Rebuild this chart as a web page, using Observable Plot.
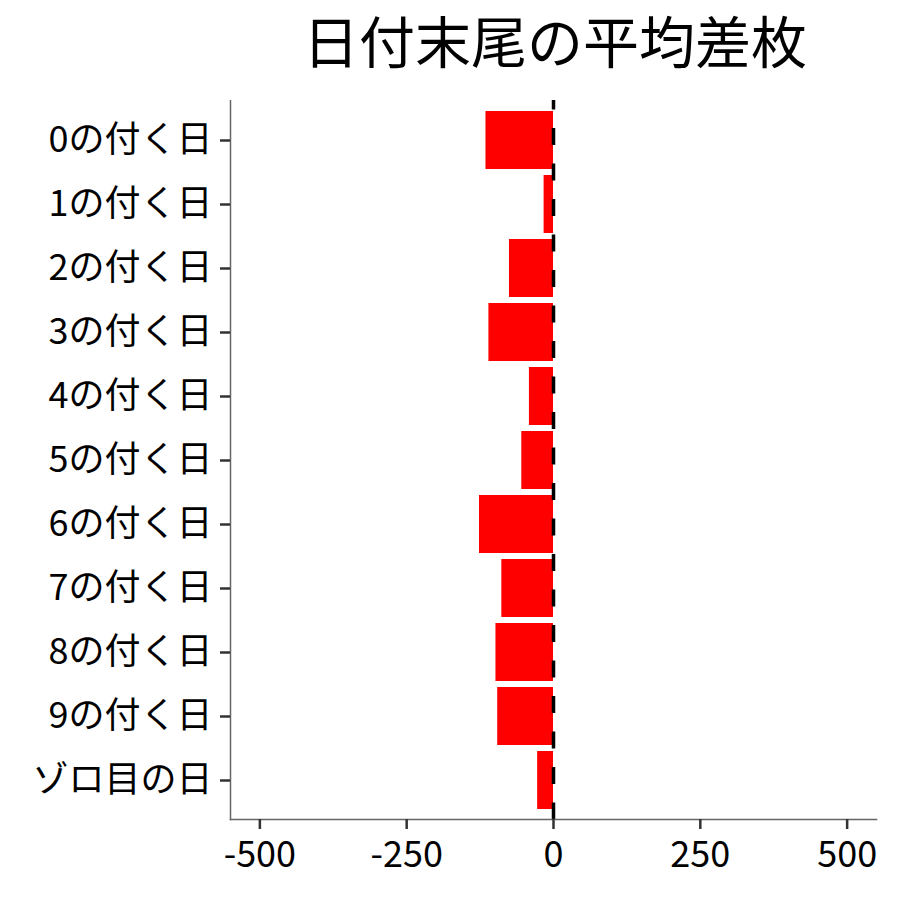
<!DOCTYPE html>
<html>
<head>
<meta charset="utf-8">
<script src="https://cdn.jsdelivr.net/npm/d3@7"></script>
<script src="https://cdn.jsdelivr.net/npm/@observablehq/plot@0.6"></script>
<style>
  body { margin: 0; background: #fff; font-family: "Noto Sans CJK JP", sans-serif; }
  #title { box-sizing: border-box; height: 100px; width: 900px; padding: 1px 0 0 210px;
           text-align: center; font-size: 56px; line-height: 1.35; color: #000; }
  #chart { height: 800px; }
  #chart svg { display: block; }
</style>
</head>
<body>
<div id="title">日付末尾の平均差枚</div>
<div id="chart"></div>
<script>
const categories = ["0の付く日","1の付く日","2の付く日","3の付く日","4の付く日","5の付く日","6の付く日","7の付く日","8の付く日","9の付く日","ゾロ目の日"];
const values = [-115, -16, -75, -110, -41, -54, -126, -88, -98, -95, -27];
const xTicks = [-500, -250, 0, 250, 500];

const data = categories.map((c, i) => ({cat: c, val: values[i]}));

const chart = Plot.plot({
  width: 900,
  height: 800,
  marginTop: 0,
  marginBottom: 81,
  marginLeft: 230,
  marginRight: 24,
  style: {fontFamily: "'Noto Sans CJK JP', sans-serif", fontSize: "36px", color: "#000", background: "#fff"},
  x: {domain: [-550, 550], ticks: xTicks, label: null},
  y: {domain: categories, paddingInner: 0.1, paddingOuter: 0.15, label: null},
  marks: [
    Plot.barX(data, {x: "val", y: "cat", fill: "#FF0000"}),
    Plot.ruleX([0], {stroke: "#000", strokeWidth: 3.5, strokeDasharray: "17,18.5", strokeDashoffset: 7.6}),
    Plot.frame({anchor: "left", stroke: "#666", strokeWidth: 1.5}),
    Plot.frame({anchor: "bottom", stroke: "#666", strokeWidth: 1.5}),
    Plot.axisX({ticks: xTicks, tickFormat: d => String(d), tickSize: 10, tickPadding: 12, stroke: "#333", strokeWidth: 2.5, fontSize: 36, fill: "#000", label: null}),
    Plot.axisY({tickSize: 10, tickPadding: 8, stroke: "#333", strokeWidth: 2.5, fontSize: 36, fill: "#000", label: null})
  ]
});
document.getElementById("chart").appendChild(chart);
</script>
</body>
</html>
